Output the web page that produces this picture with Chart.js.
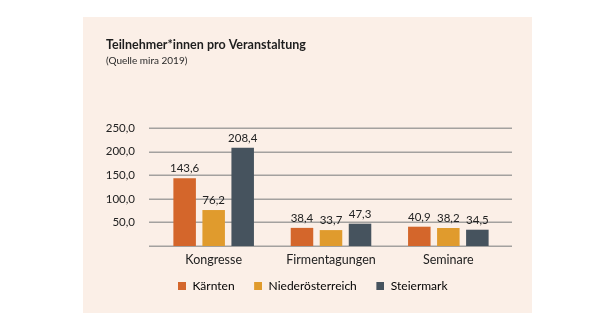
<!DOCTYPE html>
<html>
<head>
<meta charset="utf-8">
<script src="https://cdn.jsdelivr.net/npm/chart.js@4/dist/chart.umd.min.js"></script>
<style>
  html, body { margin: 0; padding: 0; background: #ffffff; }
  #wrap { position: relative; width: 613px; height: 330px; }
  canvas { display: block; }
</style>
</head>
<body>
<div id="wrap"><canvas id="c" width="613" height="330"></canvas></div>
<script>
const categories = ["Kongresse", "Firmentagungen", "Seminare"];
const seriesNames = ["Kärnten", "Niederösterreich", "Steiermark"];
const kaernten = [143.6, 38.4, 40.9];
const niederoesterreich = [76.2, 33.7, 38.2];
const steiermark = [208.4, 47.3, 34.5];
const yTicks = [0, 50, 100, 150, 200, 250];
const titleText = "Teilnehmer*innen pro Veranstaltung";
const subtitleText = "(Quelle mira 2019)";

const colors = ["#d4662b", "#e09b2d", "#46535e"];
const FONT = "Lato, 'Open Sans', sans-serif";

function fmt(v) { return v.toFixed(1).replace('.', ','); }

// legend swatch: 8x8 square at the right end of a transparent canvas
function swatch(color) {
  const c = document.createElement('canvas');
  c.width = 20; c.height = 8;
  const x = c.getContext('2d');
  x.fillStyle = color; x.fillRect(12, 0, 8, 8);
  return c;
}
const swatches = colors.map(swatch);

const panelPlugin = {
  id: 'panel',
  beforeDraw(chart) {
    const ctx = chart.ctx;
    ctx.save();
    ctx.fillStyle = '#fbefe7';
    ctx.fillRect(83, 17, 449, 296);
    ctx.restore();
  }
};

// horizontal grid lines from the y scale, slightly wider than the plot area
const gridPlugin = {
  id: 'wideGrid',
  beforeDatasetsDraw(chart) {
    const ctx = chart.ctx, ys = chart.scales.y, a = chart.chartArea;
    ctx.save();
    ctx.strokeStyle = '#a3a19f';
    ctx.lineWidth = 1.5;
    ys.ticks.forEach(t => {
      const y = Math.round(ys.getPixelForValue(t.value)) + 0.25;
      ctx.beginPath();
      ctx.moveTo(a.left - 6, y);
      ctx.lineTo(a.right + 5, y);
      ctx.stroke();
    });
    ctx.restore();
  }
};

const valueLabels = {
  id: 'valueLabels',
  afterDatasetsDraw(chart) {
    const ctx = chart.ctx;
    ctx.save();
    ctx.font = "11.5px " + FONT;
    ctx.fillStyle = '#222222';
    ctx.textAlign = 'center';
    ctx.textBaseline = 'bottom';
    chart.data.datasets.forEach((ds, di) => {
      const meta = chart.getDatasetMeta(di);
      meta.data.forEach((bar, i) => {
        ctx.fillText(fmt(ds.data[i]), bar.x, bar.y - 4);
      });
    });
    ctx.restore();
  }
};

const seriesData = [kaernten, niederoesterreich, steiermark];

new Chart(document.getElementById('c'), {
  type: 'bar',
  data: {
    labels: categories,
    datasets: seriesNames.map((name, i) => ({
      label: name,
      data: seriesData[i],
      backgroundColor: colors[i],
      borderWidth: 0,
      categoryPercentage: 0.742,
      barPercentage: 0.776
    }))
  },
  options: {
    responsive: false,
    animation: false,
    layout: { padding: { left: 106, right: 106, top: 37, bottom: 28 } },
    plugins: {
      title: {
        display: true, text: titleText, align: 'start', color: '#1e1e1e',
        font: { family: FONT, size: 12.5, weight: 'bold', lineHeight: 1.2 },
        padding: { top: 0, bottom: 3 }
      },
      subtitle: {
        display: true, text: subtitleText, align: 'start', color: '#2a2a2a',
        font: { family: FONT, size: 10, lineHeight: 1.2 },
        padding: { top: 0, bottom: 61 }
      },
      legend: {
        position: 'bottom',
        labels: {
          usePointStyle: true,
          pointStyleWidth: 21,
          boxHeight: 8,
          padding: 7,
          color: '#222222',
          font: { family: FONT, size: 12 },
          generateLabels(chart) {
            return chart.data.datasets.map((ds, i) => ({
              text: ds.label,
              fillStyle: colors[i],
              strokeStyle: colors[i],
              lineWidth: 0,
              pointStyle: swatches[i],
              datasetIndex: i,
              hidden: false
            }));
          }
        }
      },
      tooltip: { enabled: false }
    },
    scales: {
      x: {
        grid: { display: false, drawTicks: false },
        border: { display: false },
        ticks: { color: '#222222', padding: 6, font: { family: FONT, size: 12.5 } },
        afterFit(scale) { scale.paddingLeft = 0; scale.paddingRight = 0; }
      },
      y: {
        min: 0, max: 250,
        afterBuildTicks(scale) { scale.ticks = yTicks.map(v => ({ value: v })); },
        afterFit(scale) { scale.width = 49; },
        grid: { display: false, drawTicks: false },
        border: { display: false },
        ticks: {
          color: '#222222', padding: 20,
          font: { family: FONT, size: 11.5 },
          callback: (v) => v === 0 ? '' : fmt(v)
        }
      }
    }
  },
  plugins: [panelPlugin, gridPlugin, valueLabels]
});
</script>
</body>
</html>
